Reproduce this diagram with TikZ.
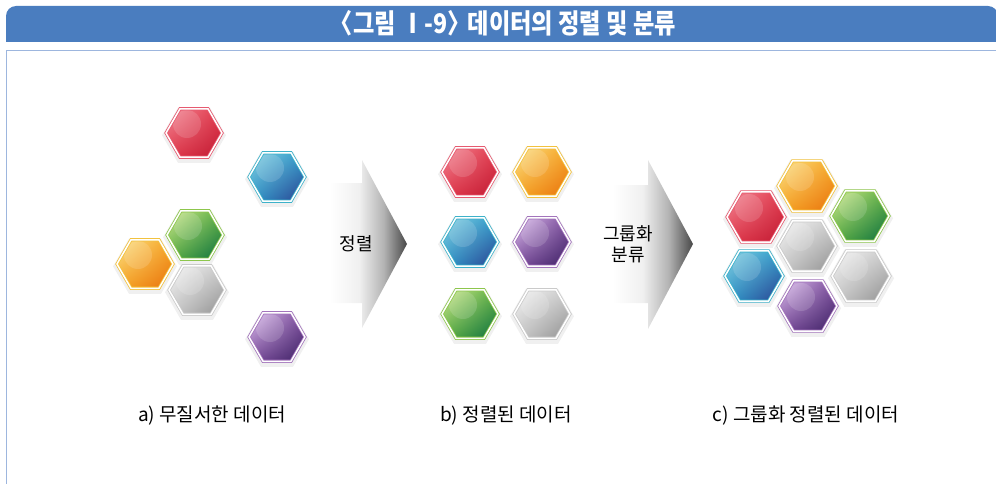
\documentclass[tikz,border=0pt]{standalone}
\usepackage{fontspec}
\setmainfont{Noto Sans CJK KR}
\newfontfamily\titlefont{Noto Sans CJK KR}[FakeStretch=0.86]
\usetikzlibrary{shapes.geometric,shadows,shadings}

\definecolor{barblue}{HTML}{4A7DBF}
\definecolor{frameblue}{HTML}{9DB6DE}

\definecolor{redline}{HTML}{E65A70}
\definecolor{redlight}{HTML}{F28C9A}
\definecolor{redmid}{HTML}{E2394B}
\definecolor{reddark}{HTML}{BF1A33}
\definecolor{orangeline}{HTML}{F2C23E}
\definecolor{orangelight}{HTML}{FBE38F}
\definecolor{orangemid}{HTML}{F6A623}
\definecolor{orangedark}{HTML}{E8700E}
\definecolor{blueline}{HTML}{3DB2CA}
\definecolor{bluelight}{HTML}{8ED3E3}
\definecolor{bluemid}{HTML}{2B9BCB}
\definecolor{bluedark}{HTML}{2E3D8E}
\definecolor{greenline}{HTML}{8DC64C}
\definecolor{greenlight}{HTML}{D5EB96}
\definecolor{greenmid}{HTML}{5DAF3F}
\definecolor{greendark}{HTML}{0B6E43}
\definecolor{purpleline}{HTML}{A374BC}
\definecolor{purplelight}{HTML}{E2C6F2}
\definecolor{purplemid}{HTML}{7C4C9C}
\definecolor{purpledark}{HTML}{3C2263}
\definecolor{grayline}{HTML}{CACACA}
\definecolor{graylight}{HTML}{F4F4F4}
\definecolor{graymid}{HTML}{CBCBCB}
\definecolor{graydark}{HTML}{8F8F8F}

\pgfdeclarehorizontalshading{arrowshade}{100bp}{color(0bp)=(white); color(25bp)=(white); color(44bp)=(black!6); color(60bp)=(black!30); color(75bp)=(black!72); color(100bp)=(black!72)}

\begin{document}
\begin{tikzpicture}[x=1pt,y=-1pt]
					\tikzstyle{hexa}=[regular polygon, regular polygon sides=6, minimum size=56pt, inner sep=0pt, outer sep=0pt,
						shade, upper left=#1light, upper right=#1mid, lower left=#1mid, lower right=#1dark,
						draw=#1line, line width=.8pt, double=white, double distance=1.5pt,
						general shadow={fill=black, opacity=.06, shadow scale=1.14, shadow yshift=-2pt},
						path picture={\fill[white, opacity=.14] ([xshift=-7pt,yshift=9pt]path picture bounding box.center) circle (14pt);}]
					\tikzstyle{caption}=[font=\fontsize{19}{19}\selectfont]
					\tikzstyle{steplabel}=[font=\fontsize{18}{21}\selectfont, align=center]

					\useasboundingbox (0,0) rectangle (996,484);
					\fill[barblue] (6,42) -- (6,16) arc (180:270:10) -- (988,6) arc (270:360:10) -- (998,42) -- cycle;
					\draw[frameblue, line width=1pt] (6,484) -- (6,51) -- (996,51);
					\path (503,23) node[text=white, font=\titlefont\bfseries\fontsize{27}{27}\selectfont] (title) {〈그림 Ⅰ-9〉\kern-.3em{} 데이터의 정렬 및 분류};

					\path (194,133) node[hexa=red] (a1) {};
					\path (277,177) node[hexa=blue] (a2) {};
					\path (195,235) node[hexa=green] (a3) {};
					\path (145,264) node[hexa=orange] (a4) {};
					\path (197,290) node[hexa=gray] (a5) {};
					\path (277,337) node[hexa=purple] (a6) {};

					\shade[shading=arrowshade] (330,183) -- (362,183) -- (362,160) -- (407,244) -- (362,328) -- (362,303) -- (330,303) -- cycle;
					\path (356,244) node[steplabel] (sort) {정렬};

					\path (470,172) node[hexa=red] (b1) {};
					\path (542,172) node[hexa=orange] (b2) {};
					\path (470,242) node[hexa=blue] (b3) {};
					\path (542,242) node[hexa=purple] (b4) {};
					\path (470,314) node[hexa=green] (b5) {};
					\path (542,314) node[hexa=gray] (b6) {};

					\shade[shading=arrowshade] (612,185) -- (648,185) -- (648,160) -- (693,244) -- (648,329) -- (648,303) -- (612,303) -- cycle;
					\path (628,244) node[steplabel] (group) {그룹화\\분류};

					\path (807,186) node[hexa=orange, minimum size=58pt] (c1) {};
					\path (756,217) node[hexa=red, minimum size=58pt] (c2) {};
					\path (860,216) node[hexa=green, minimum size=58pt] (c3) {};
					\path (807,246) node[hexa=gray, minimum size=58pt] (c4) {};
					\path (754,276) node[hexa=blue, minimum size=58pt] (c5) {};
					\path (861,276) node[hexa=gray, minimum size=58pt] (c6) {};
					\path (808,306) node[hexa=purple, minimum size=58pt] (c7) {};

					\path (212,416) node[caption] (capa) {a) 무질서한 데이터};
					\path (506,416) node[caption] (capb) {b) 정렬된 데이터};
					\path (806,416) node[caption] (capc) {c) 그룹화 정렬된 데이터};
\end{tikzpicture}
\end{document}
